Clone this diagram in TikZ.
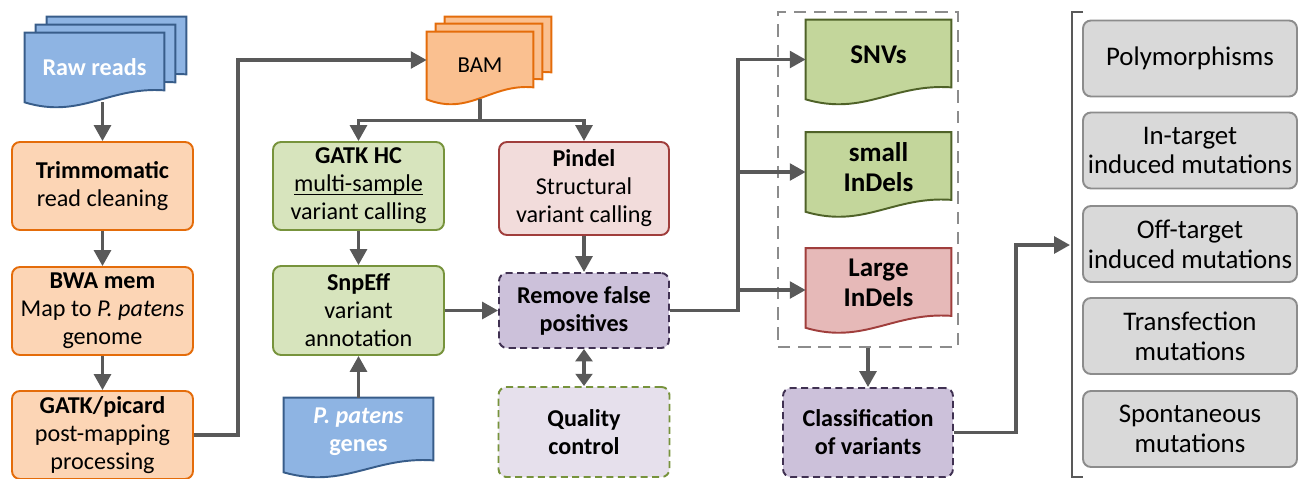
\documentclass[tikz,border=0pt]{standalone}
\usepackage{fontspec}
\setmainfont{Carlito}
\usetikzlibrary{arrows.meta,calc,backgrounds}

\definecolor{arrowgray}{HTML}{595959}
\definecolor{orangeline}{HTML}{E46C0A}
\definecolor{orangefill}{HTML}{FCD5B5}
\definecolor{bamfill}{HTML}{FAC090}
\definecolor{blueline}{HTML}{385D8A}
\definecolor{bluefill}{HTML}{8EB4E3}
\definecolor{greenline}{HTML}{77933C}
\definecolor{greenfill}{HTML}{D7E4BD}
\definecolor{snvline}{HTML}{4F6228}
\definecolor{snvfill}{HTML}{C3D69B}
\definecolor{redline}{HTML}{A03E3C}
\definecolor{pinkfill}{HTML}{F2DCDB}
\definecolor{largefill}{HTML}{E6B9B8}
\definecolor{purpleline}{HTML}{403152}
\definecolor{purplefill}{HTML}{CCC1DA}
\definecolor{qcfill}{HTML}{E6E0EC}
\definecolor{grayline}{HTML}{8C8C8C}
\definecolor{grayfill}{HTML}{D9D9D9}

% outline of a document shape around a node (wavy bottom),
% optional arg: how far the wave reaches below the node
\newcommand{\docshape}[3][0]{%
  \draw[#3] (#2.north west) -- (#2.north east) -- ($(#2.south east)+(0,#1-12)$)
    .. controls ($(#2.south east)!0.4!(#2.south west)+(0,#1-16)$)
    and ($(#2.south east)!0.6!(#2.south west)+(0,#1+17)$) .. ($(#2.south west)+(0,#1)$) -- cycle;}

\begin{document}
\begin{tikzpicture}[x=0.02cm,y=-0.02cm,
    font=\fontsize{13.75}{15.9}\selectfont,
    every node/.style={align=center,inner sep=0pt},
    box/.style={rounded corners=4.5pt,line width=1.1pt,minimum width=3.62cm,minimum height=1.76cm},
    orangebox/.style={box,draw=orangeline,fill=orangefill},
    greenbox/.style={box,draw=greenline,fill=greenfill,minimum width=3.42cm},
    pinkbox/.style={box,draw=redline,fill=pinkfill,minimum width=3.4cm,minimum height=1.86cm},
    purplebox/.style={box,draw=purpleline,fill=purplefill,dash pattern=on 4pt off 2.5pt,
      minimum width=3.4cm,minimum height=1.5cm,font=\fontsize{13.75}{15.9}\selectfont\bfseries},
    qcbox/.style={box,draw=greenline,fill=qcfill,dash pattern=on 4pt off 2.5pt,
      minimum width=3.42cm,minimum height=1.8cm,font=\fontsize{13.75}{15.9}\selectfont\bfseries},
    graybox/.style={box,draw=grayline,fill=grayfill,minimum width=4.28cm,minimum height=1.52cm,
      font=\fontsize{15.3}{17}\selectfont},
    docnode/.style={minimum width=2.78cm,minimum height=1.38cm},
    bigdoc/.style={minimum width=2.9cm,minimum height=1.38cm,font=\fontsize{15.4}{17}\selectfont\bfseries},
    docline/.style={line width=1.1pt},
    arr/.style={draw=arrowgray,line width=1.9pt,-{Triangle[width=9.5pt,length=9pt]}},
    ]
\useasboundingbox (0,0) rectangle (1306,478);

% left column
\node[docnode,text=white,font=\fontsize{13.75}{15.9}\selectfont\bfseries] (raw) at (94.5,67.5) {Raw reads};
\node[docnode] (raw2) at ([shift={(11,-8)}]raw.center) {};
\node[docnode] (raw3) at ([shift={(22,-16)}]raw.center) {};
\node[orangebox] (trim) at (102.5,186) {\textbf{Trimmomatic}\\read cleaning};
\node[orangebox] (bwa) at (102.5,311) {\textbf{BWA mem}\\Map to \textit{P. patens}\\genome};
\node[orangebox] (picard) at (102.5,435) {\textbf{GATK/picard}\\post-mapping\\processing};

% middle
\node[docnode,minimum width=2.12cm,minimum height=1.34cm,font=\fontsize{13}{15.9}\selectfont] (bam) at (480,65.5) {BAM};
\node[docnode,minimum width=2.12cm,minimum height=1.34cm] (bam2) at ([shift={(9,-8)}]bam.center) {};
\node[docnode,minimum width=2.12cm,minimum height=1.34cm] (bam3) at ([shift={(18,-15)}]bam.center) {};
\node[greenbox] (gatkhc) at (358.5,186) {\textbf{GATK HC}\\\underline{\smash{multi-sample}}\\variant calling};
\node[greenbox,minimum height=1.78cm] (snpeff) at (358.5,310.5) {\textbf{SnpEff}\\variant\\annotation};
\node[docnode,minimum width=2.98cm,minimum height=1.36cm,text=white,
  font=\fontsize{13.75}{15.9}\selectfont\bfseries] (genes) at (358.5,432) {\textit{P. patens}\\genes};
\node[pinkbox] (pindel) at (584,188.5) {\textbf{Pindel}\\Structural\\variant calling};
\node[purplebox] (remove) at (584,310.5) {Remove false\\positives};
\node[qcbox] (qc) at (584,432) {Quality\\control};

% variants
\node[bigdoc] (snv) at (878.5,54.5) {SNVs};
\node[bigdoc] (small) at (878.5,167) {small\\InDels};
\node[bigdoc] (large) at (878.5,283) {Large\\InDels};
\node[draw=grayline,line width=1.1pt,dash pattern=on 7pt off 4.5pt,minimum width=3.6cm,
  minimum height=6.7cm] (group) at (868,179.5) {};
\node[purplebox,minimum height=1.78cm] (classif) at (868,432.5) {Classification\\of variants};

% classes
\node[graybox] (poly) at (1190,58.5) {Polymorphisms};
\node[graybox] (intarget) at (1190,150.5) {In-target\\induced mutations};
\node[graybox] (offtarget) at (1190,244) {Off-target\\induced mutations};
\node[graybox] (transf) at (1190,336) {Transfection\\mutations};
\node[graybox] (spont) at (1190,429) {Spontaneous\\mutations};
\draw[draw=arrowgray,line width=1.3pt] (1083,12) -- (1072,12) -- (1072,477) -- (1083,477);
\coordinate (brk) at (1070,245);

\begin{pgfonlayer}{background}
\docshape{raw3}{docline,draw=blueline,fill=bluefill}
\docshape{raw2}{docline,draw=blueline,fill=bluefill}
\docshape{raw}{docline,draw=blueline,fill=bluefill}
\docshape{bam3}{docline,draw=orangeline,fill=bamfill}
\docshape{bam2}{docline,draw=orangeline,fill=bamfill}
\docshape{bam}{docline,draw=orangeline,fill=bamfill}
\docshape[6]{genes}{docline,draw=blueline,fill=bluefill}
\docshape[10]{snv}{docline,draw=snvline,fill=snvfill}
\docshape[10]{small}{docline,draw=snvline,fill=snvfill}
\docshape[10]{large}{docline,draw=redline,fill=largefill}
\end{pgfonlayer}

% connectors
\draw[arr] (raw.south -| trim.north) -- (trim.north);
\draw[arr] (trim) -- (bwa);
\draw[arr] (bwa) -- (picard);
\draw[arr] (picard.east) -- ++(44,0) |- ([shift={(0,-5.5)}]bam.west);
\draw[arr] (bam.south) -- ++(0,21) -| (gatkhc.north);
\draw[arr] (bam.south) -- ++(0,21) -| (pindel.north);
\draw[arr] (gatkhc) -- (snpeff);
\draw[arr] (genes.north) -- (snpeff.south);
\draw[arr] (snpeff) -- (remove);
\draw[arr] (pindel) -- (remove);
\draw[arr,{Triangle[width=9.5pt,length=7pt]}-{Triangle[width=9.5pt,length=7pt]}] (remove) -- (qc);
\draw[arr] (remove.east) -- ++(68,0) |- ([shift={(0,5)}]snv.west);
\draw[arr] (remove.east) -- ++(68,0) |- ([shift={(0,5)}]small.west);
\draw[arr] (remove.east) -- ++(68,0) |- ([shift={(0,7)}]large.west);
\draw[arr] (group) -- (classif);
\draw[arr] (classif.east) -- ++(62,0) |- (brk);
\end{tikzpicture}
\end{document}
